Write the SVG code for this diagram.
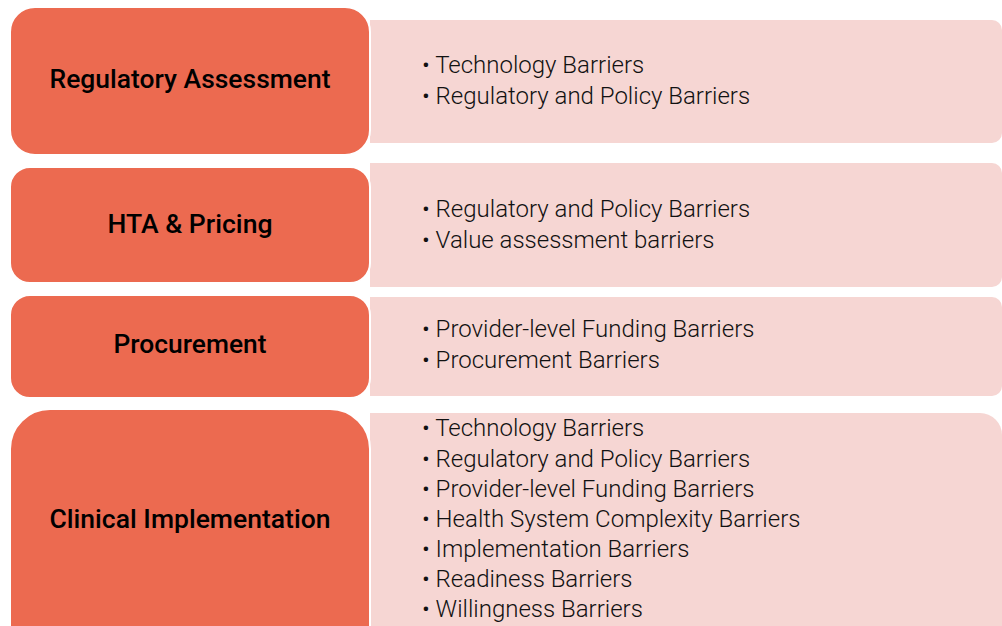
<svg xmlns="http://www.w3.org/2000/svg" width="1002" height="626" viewBox="0 0 1002 626">
<style>
.stage{fill:#EC6A50;stroke:#FFFFFF;stroke-width:2}
.panel{fill:#F6D6D3}
.lbl{font-family:Roboto,"Liberation Sans",sans-serif;font-weight:500;font-size:25.5px;fill:#000;text-anchor:middle}
.item{font-family:Roboto,"Liberation Sans",sans-serif;font-weight:300;font-size:24px;fill:#111}
</style>
<rect width="1002" height="626" fill="#FFFFFF"/>
<g id="panel-regulatory">
<path class="panel" d="M370 20 H992 A10 10 0 0 1 1002 30 V133 A10 10 0 0 1 992 143 H370 Z"/>
<text class="item" x="422" y="73">• Technology Barriers</text>
<text class="item" x="422" y="104">• Regulatory and Policy Barriers</text>
</g>
<g id="panel-hta">
<path class="panel" d="M370 163 H992 A10 10 0 0 1 1002 173 V277 A10 10 0 0 1 992 287 H370 Z"/>
<text class="item" x="422" y="217">• Regulatory and Policy Barriers</text>
<text class="item" x="422" y="248">• Value assessment barriers</text>
</g>
<g id="panel-procurement">
<path class="panel" d="M370 297 H992 A10 10 0 0 1 1002 307 V386 A10 10 0 0 1 992 396 H370 Z"/>
<text class="item" x="422" y="337">• Provider-level Funding Barriers</text>
<text class="item" x="422" y="368">• Procurement Barriers</text>
</g>
<g id="panel-clinical">
<path class="panel" d="M370 413 H980 A22 22 0 0 1 1002 435 V640 H370 Z"/>
<text class="item" x="422" y="436">• Technology Barriers</text>
<text class="item" x="422" y="467">• Regulatory and Policy Barriers</text>
<text class="item" x="422" y="497">• Provider-level Funding Barriers</text>
<text class="item" x="422" y="527">• Health System Complexity Barriers</text>
<text class="item" x="422" y="557">• Implementation Barriers</text>
<text class="item" x="422" y="587">• Readiness Barriers</text>
<text class="item" x="422" y="617">• Willingness Barriers</text>
</g>
<g id="stage-regulatory">
<rect class="stage" x="10" y="7" width="360" height="148" rx="25"/>
<text class="lbl" x="190" y="88" textLength="281" lengthAdjust="spacingAndGlyphs">Regulatory Assessment</text>
</g>
<g id="stage-hta">
<rect class="stage" x="10" y="167" width="360" height="116" rx="20"/>
<text class="lbl" x="190" y="233" textLength="165" lengthAdjust="spacingAndGlyphs">HTA &amp; Pricing</text>
</g>
<g id="stage-procurement">
<rect class="stage" x="10" y="295" width="360" height="103" rx="20"/>
<text class="lbl" x="190" y="353" textLength="153" lengthAdjust="spacingAndGlyphs">Procurement</text>
</g>
<g id="stage-clinical">
<rect class="stage" x="10" y="409" width="360" height="260" rx="40"/>
<text class="lbl" x="190" y="528" textLength="281" lengthAdjust="spacingAndGlyphs">Clinical Implementation</text>
</g>
<g id="connectors"/>
</svg>
